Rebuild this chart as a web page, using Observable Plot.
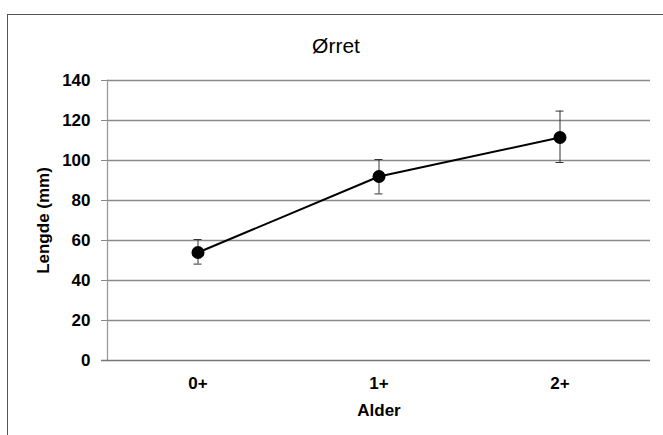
<!DOCTYPE html>
<html><head><meta charset="utf-8">
<script src="https://cdn.jsdelivr.net/npm/d3@7"></script>
<script src="https://cdn.jsdelivr.net/npm/@observablehq/plot@0.6"></script>
<style>
html,body{margin:0;padding:0;background:#fff;overflow:hidden;width:663px;height:435px;}
#wrap{position:relative;width:663px;height:435px;}
#frame{position:absolute;left:7px;top:14px;width:700px;height:500px;border:1.5px solid #555;box-sizing:border-box;}
#chart{position:absolute;left:0;top:0;}
</style></head>
<body><div id="wrap"><div id="frame"></div><div id="chart"></div></div>
<script>
const title = "Ørret";
const xLabel = "Alder";
const yLabel = "Lengde (mm)";
const ages = ["0+", "1+", "2+"];
const meanLength = [54, 92, 111.5];
const errLow = [48.2, 83.3, 99];
const errHigh = [60.5, 100.5, 124.7];
const yTicks = [0, 20, 40, 60, 80, 100, 120, 140];

const data = ages.map((a, i) => ({age: a, mean: meanLength[i], lo: errLow[i], hi: errHigh[i]}));
const font = "'Liberation Sans', Arial, sans-serif";

const chart = Plot.plot({
  width: 663, height: 435,
  marginLeft: 107, marginRight: 13, marginTop: 80, marginBottom: 75,
  style: {fontFamily: font, fontSize: "17px", fontWeight: "bold", color: "#000", background: "transparent"},
  x: {type: "band", domain: ages, padding: 0, label: xLabel},
  y: {domain: [0, 140], ticks: yTicks, label: yLabel},
  marks: [
    Plot.gridY(yTicks.filter(d => d > 0), {stroke: "#8a8a8a", strokeOpacity: 1, strokeWidth: 1.3}),
    Plot.axisY({ticks: yTicks, tickSize: 6, tickPadding: 11, stroke: "#888", label: yLabel, labelAnchor: "center", labelArrow: "none", labelOffset: 71, fontSize: 17, fontWeight: "bold"}),
    Plot.axisX({tickSize: 0, tickPadding: 16, label: xLabel, labelAnchor: "center", labelArrow: "none", labelOffset: 55, fontSize: 17, fontWeight: "bold"}),
    Plot.frame({anchor: "left", stroke: "#999", strokeWidth: 1.3}),
    Plot.ruleY([0], {stroke: "#777", strokeWidth: 1.3, insetLeft: -6}),
    Plot.ruleX(data, {x: "age", y1: "lo", y2: "hi", stroke: "#333", strokeWidth: 1}),
    Plot.tickY(data, {x: "age", y: "lo", stroke: "#333", strokeWidth: 1, insetLeft: 86.5, insetRight: 86.5}),
    Plot.tickY(data, {x: "age", y: "hi", stroke: "#333", strokeWidth: 1, insetLeft: 86.5, insetRight: 86.5}),
    Plot.line(data, {x: "age", y: "mean", stroke: "#000", strokeWidth: 2}),
    Plot.dot(data, {x: "age", y: "mean", r: 6.5, fill: "#000", stroke: "none"})
  ]
});
document.getElementById("chart").appendChild(chart);
d3.select(chart).append("text")
  .attr("x", 336).attr("y", 53)
  .attr("text-anchor", "middle")
  .style("font-family", font).style("font-size", "21px").style("font-weight", "normal")
  .attr("fill", "#000")
  .text(title);
</script></body></html>
